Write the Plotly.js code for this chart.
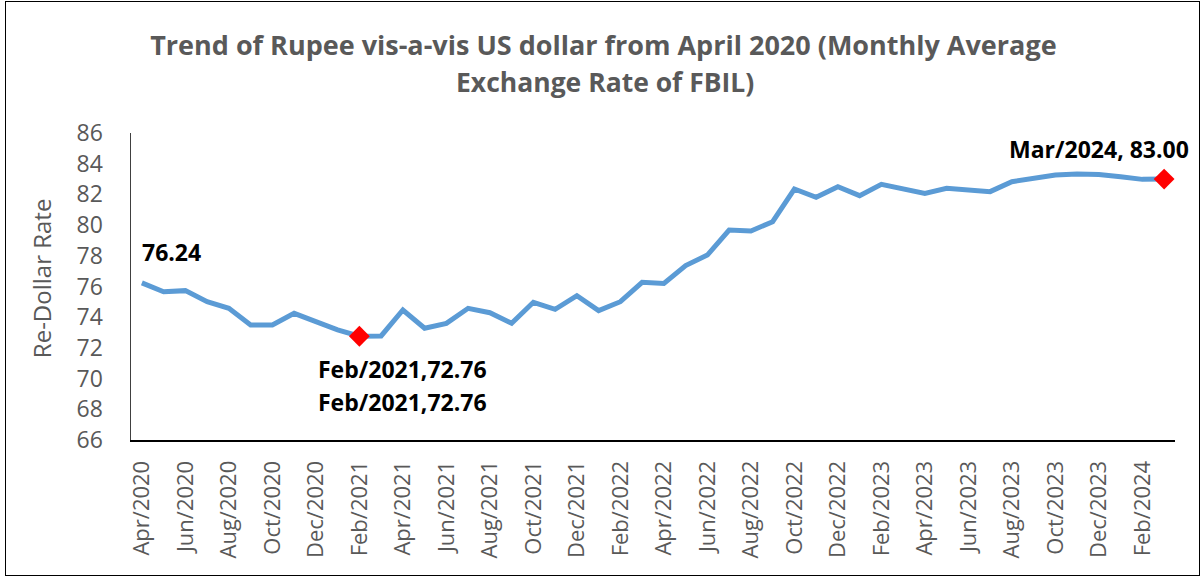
<!DOCTYPE html>
<html>
<head>
<meta charset="utf-8">
<script src="https://cdn.plot.ly/plotly-3.0.1.min.js"></script>
<style>
  html, body { margin: 0; padding: 0; background: #fff; }
  #wrap { position: relative; width: 1202px; height: 579px; }
  #chart { position: absolute; left: 0; top: 0; width: 1202px; height: 579px; }
  #frame { position: absolute; left: 5px; top: 1px; width: 1193px; height: 573px; border: 1.5px solid #000; pointer-events: none; }
</style>
</head>
<body>
<div id="wrap"><div id="chart"></div><div id="frame"></div></div>
<script>
const months = [
  "Apr/2020","May/2020","Jun/2020","Jul/2020","Aug/2020","Sep/2020","Oct/2020","Nov/2020","Dec/2020","Jan/2021","Feb/2021","Mar/2021",
  "Apr/2021","May/2021","Jun/2021","Jul/2021","Aug/2021","Sep/2021","Oct/2021","Nov/2021","Dec/2021","Jan/2022","Feb/2022","Mar/2022",
  "Apr/2022","May/2022","Jun/2022","Jul/2022","Aug/2022","Sep/2022","Oct/2022","Nov/2022","Dec/2022","Jan/2023","Feb/2023","Mar/2023",
  "Apr/2023","May/2023","Jun/2023","Jul/2023","Aug/2023","Sep/2023","Oct/2023","Nov/2023","Dec/2023","Jan/2024","Feb/2024","Mar/2024"
];
const rates = [
  76.24, 75.66, 75.73, 75.01, 74.58, 73.49, 73.49, 74.25, 73.71, 73.17, 72.76, 72.78,
  74.47, 73.28, 73.60, 74.58, 74.29, 73.60, 74.97, 74.51, 75.40, 74.43, 75.01, 76.27,
  76.20, 77.36, 78.05, 79.68, 79.62, 80.22, 82.35, 81.81, 82.50, 81.92, 82.66, 82.35,
  82.07, 82.40, 82.29, 82.18, 82.83, 83.05, 83.26, 83.33, 83.30, 83.15, 82.98, 83.00
];
const tickLabels = [
  "Apr/2020","Jun/2020","Aug/2020","Oct/2020","Dec/2020","Feb/2021","Apr/2021","Jun/2021","Aug/2021","Oct/2021","Dec/2021","Feb/2022",
  "Apr/2022","Jun/2022","Aug/2022","Oct/2022","Dec/2022","Feb/2023","Apr/2023","Jun/2023","Aug/2023","Oct/2023","Dec/2023","Feb/2024"
];
const highlightMonths = ["Feb/2021", "Mar/2024"];
const titleLine1 = "Trend of Rupee vis-a-vis US dollar from April 2020 (Monthly Average";
const titleLine2 = "Exchange Rate of FBIL)";
const yTitle = "Re-Dollar Rate";

const hiY = highlightMonths.map(m => rates[months.indexOf(m)]);
const FONT = "Open Sans, sans-serif";
const GREY = "#595959";

const traces = [
  { type: "scatter", mode: "lines", x: months, y: rates,
    line: { color: "#5B9BD5", width: 5 }, hoverinfo: "x+y" },
  { type: "scatter", mode: "markers", x: highlightMonths, y: hiY,
    marker: { symbol: "diamond", size: 16, color: "#FF0000" } }
];

const lowM = highlightMonths[0], lowV = rates[months.indexOf(lowM)].toFixed(2);
const lastM = highlightMonths[1], lastV = rates[months.indexOf(lastM)].toFixed(2);

const annFont = { family: FONT, size: 23, color: "#000" };
const layout = {
  width: 1202, height: 579,
  margin: { l: 131, r: 27, t: 133, b: 139 },
  paper_bgcolor: "#fff", plot_bgcolor: "#fff",
  showlegend: false,
  title: { text: "<b>" + titleLine1 + "</b>", x: 0.502, xanchor: "center", y: 0.922, yanchor: "middle",
           font: { family: FONT, size: 27, color: GREY } },
  xaxis: {
    type: "category", categoryorder: "array", categoryarray: months,
    range: [-0.5, months.length - 0.5],
    tickmode: "array", tickvals: tickLabels, ticktext: tickLabels,
    tickangle: -90, ticks: "outside", ticklen: 10, tickcolor: "rgba(0,0,0,0)",
    tickfont: { family: FONT, size: 22, color: GREY },
    showline: true, linecolor: "#000", linewidth: 2, showgrid: false, zeroline: false, fixedrange: true
  },
  yaxis: {
    range: [66, 86], dtick: 2, tick0: 66,
    ticks: "outside", ticklen: 22, tickcolor: "rgba(0,0,0,0)",
    tickfont: { family: FONT, size: 23, color: GREY },
    showline: true, linecolor: "#404040", linewidth: 1.5, showgrid: false, zeroline: false, fixedrange: true
  },
  annotations: [
    { xref: "paper", yref: "paper", x: 0.454, y: 1.166, xanchor: "center", yanchor: "middle", showarrow: false,
      text: "<b>" + titleLine2 + "</b>", font: { family: FONT, size: 26.5, color: GREY } },
    { xref: "paper", yref: "paper", x: -0.085, y: 0.528, xanchor: "center", yanchor: "middle", showarrow: false,
      textangle: -90, text: yTitle, font: { family: FONT, size: 24, color: GREY } },
    { x: months[0], y: rates[0], xanchor: "left", yanchor: "middle", xshift: -2, yshift: 31, showarrow: false,
      text: "<b>" + rates[0].toFixed(2) + "</b>", font: annFont },
    { x: lowM, y: rates[months.indexOf(lowM)], xanchor: "center", yanchor: "middle", xshift: 43, yshift: -33, showarrow: false,
      text: "<b>" + lowM + "," + lowV + "</b>", font: annFont },
    { x: lowM, y: rates[months.indexOf(lowM)], xanchor: "center", yanchor: "middle", xshift: 43, yshift: -66, showarrow: false,
      text: "<b>" + lowM + "," + lowV + "</b>", font: annFont },
    { x: lastM, y: rates[months.indexOf(lastM)], xanchor: "center", yanchor: "middle", xshift: -65, yshift: 30, showarrow: false,
      text: "<b>" + lastM + ", " + lastV + "</b>", font: annFont }
  ]
};

Plotly.newPlot("chart", traces, layout, { displayModeBar: false, staticPlot: true });
</script>
</body>
</html>
